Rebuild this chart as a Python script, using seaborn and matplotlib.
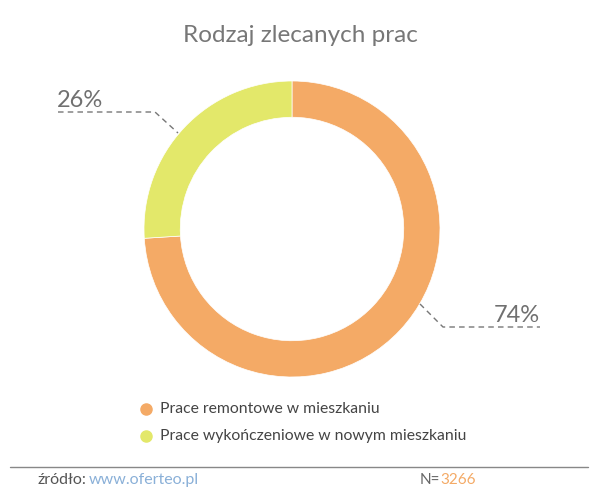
import matplotlib
matplotlib.use("Agg")
import matplotlib.pyplot as plt
import seaborn as sns
import numpy as np
from matplotlib.lines import Line2D

# data
categories = ["Prace remontowe w mieszkaniu", "Prace wykończeniowe w nowym mieszkaniu"]
shares = [74, 26]
colors = ["#F4AA66", "#E3E86A"]
title = "Rodzaj zlecanych prac"
n_total = 3266

sns.set_theme(style="white")
plt.rcParams['font.family'] = ['Lato', 'DejaVu Sans']

W, H = 600, 500
fig = plt.figure(figsize=(W / 100, H / 100), dpi=100)

def fx(px):
    return px / W

def fy(py):
    return 1 - py / H

# donut: centre (292, 229), radius 148 px
cx, cy, r = 292, 229, 148
ax = fig.add_axes([fx(cx - r), fy(cy + r), 2 * r / W, 2 * r / H])
wedges, _ = ax.pie(shares, colors=colors, startangle=90, counterclock=False,
                   radius=1, wedgeprops=dict(width=0.245, edgecolor="white", linewidth=0.5))
ax.set_xlim(-1, 1)
ax.set_ylim(-1, 1)
ax.set_aspect("equal")
ax.axis("off")

fig.text(0.5, fy(36), title, ha="center", va="center", fontsize=17.5,
         color="#777777")

# percentage labels with dashed connectors
line_kw = dict(color="#777777", linewidth=1, linestyle=(0, (4, 3)), transform=fig.transFigure)
fig.add_artist(Line2D([fx(58), fx(155), fx(178)], [fy(112), fy(112), fy(133)], **line_kw))
fig.text(fx(57), fy(111), f"{shares[1]}%", ha="left", va="bottom", fontsize=17,
         color="#707070")
fig.add_artist(Line2D([fx(420), fx(443), fx(540)], [fy(304), fy(327), fy(327)], **line_kw))
fig.text(fx(540), fy(326), f"{shares[0]}%", ha="right", va="bottom", fontsize=17,
         color="#707070")

# legend
for i, (cat, col) in enumerate(zip(categories, colors)):
    y = fy(409 + 27 * i)
    fig.add_artist(Line2D([fx(146)], [y], marker="o", markersize=8, color=col,
                          linestyle="none", transform=fig.transFigure))
    fig.text(fx(160), y, cat, ha="left", va="center", fontsize=11.3, color="#444444")

# footer
fig.add_artist(Line2D([fx(10), fx(588)], [fy(467), fy(467)], color="#888888",
                      linewidth=1, transform=fig.transFigure))
src = fig.text(fx(38), fy(480), "źródło:", ha="left", va="center", fontsize=11.5,
               color="#555555")
fig.text(fx(38), fy(480), "www.oferteo.pl", ha="left", va="center", fontsize=11.5,
         color="#8AB0D8", transform=src.get_transform() + matplotlib.transforms.ScaledTranslation(0, 0, fig.dpi_scale_trans))
fig.canvas.draw()
bb = src.get_window_extent()
fig.texts[-1].set_position((bb.x1 / W + 2 / W, fy(480)))
fig.texts[-1].set_transform(fig.transFigure)
fig.text(fx(440), fy(480), str(n_total), ha="left", va="center", fontsize=11,
         color="#F4AA66")
fig.text(fx(440), fy(480), "N=", ha="right", va="center", fontsize=11,
         color="#666666")

fig.savefig("out.png", dpi=100)
